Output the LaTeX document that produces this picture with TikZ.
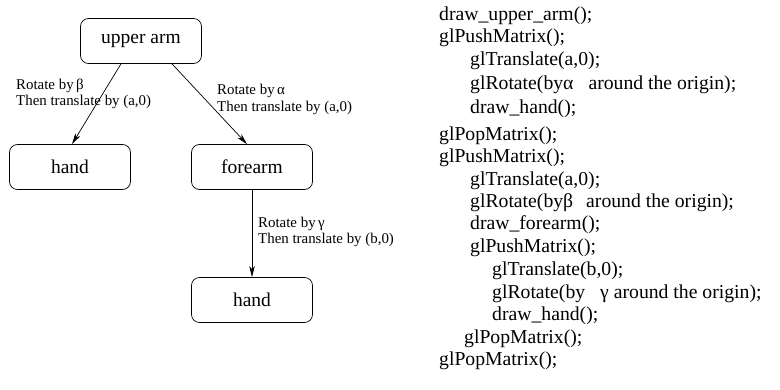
\documentclass[tikz,border=0pt]{standalone}
\usepackage{fontspec}
\setmainfont{Liberation Serif}
\usetikzlibrary{arrows.meta}
\tikzset{
  box/.style={draw, rounded corners=8pt, line width=0.7pt, minimum width=121pt, minimum height=45pt, inner sep=0pt, font=\fontsize{19.5}{22}\selectfont},
  lbl/.style={anchor=base west, inner sep=0pt, font=\fontsize{14.9}{16}\selectfont},
  code/.style={anchor=base west, inner sep=0pt, font=\fontsize{19.7}{22}\selectfont},
  conn/.style={line width=0.7pt, -{Stealth[length=11pt, width=5.5pt, inset=3pt]}}
}
\begin{document}
\begin{tikzpicture}[x=1pt, y=-1pt]
\useasboundingbox (0,0) rectangle (780,390);
% tree
\node[box] (ua) at (141,41) {upper arm};
\node[box] (hl) at (70,167) {hand};
\node[box] (fa) at (252,167) {forearm};
\node[box] (hb) at (252,300) {hand};
\draw[conn] ([xshift=-20pt]ua.south) -- ([xshift=2pt]hl.north);
\draw[conn] ([xshift=31pt]ua.south) -- ([xshift=-5pt]fa.north);
\draw[conn] (fa.south) -- (hb.north);
\node[lbl] (l1a) at (16,90) {Rotate by\,β};
\node[lbl] (l1b) at (16,106) {Then translate by (a,0)};
\node[lbl] (l2a) at (217,95) {Rotate by\,α};
\node[lbl] (l2b) at (217,112) {Then translate by (a,0)};
\node[lbl] (l3a) at (258,228) {Rotate by\,γ};
\node[lbl] (l3b) at (258,244) {Then translate by (b,0)};
% code
\node[code] (c1) at (439,21) {draw\_upper\_arm();};
\node[code] (c2) at (439,43) {glPushMatrix();};
\node[code] (c3) at (470,66) {glTranslate(a,0);};
\node[code] (c4) at (470,90) {glRotate(byα\hspace{15pt}around the origin);};
\node[code] (c5) at (470,114) {draw\_hand();};
\node[code] (c6) at (439,141) {glPopMatrix();};
\node[code] (c7) at (439,163) {glPushMatrix();};
\node[code] (c8) at (470,186) {glTranslate(a,0);};
\node[code] (c9) at (470,208) {glRotate(byβ\hspace{13pt}around the origin);};
\node[code] (c10) at (470,230) {draw\_forearm();};
\node[code] (c11) at (470,253) {glPushMatrix();};
\node[code] (c12) at (492,276) {glTranslate(b,0);};
\node[code] (c13) at (492,299) {glRotate(by\hspace{15pt}γ around the origin);};
\node[code] (c14) at (492,321) {draw\_hand();};
\node[code] (c15) at (464,344) {glPopMatrix();};
\node[code] (c16) at (439,366) {glPopMatrix();};
\end{tikzpicture}
\end{document}
